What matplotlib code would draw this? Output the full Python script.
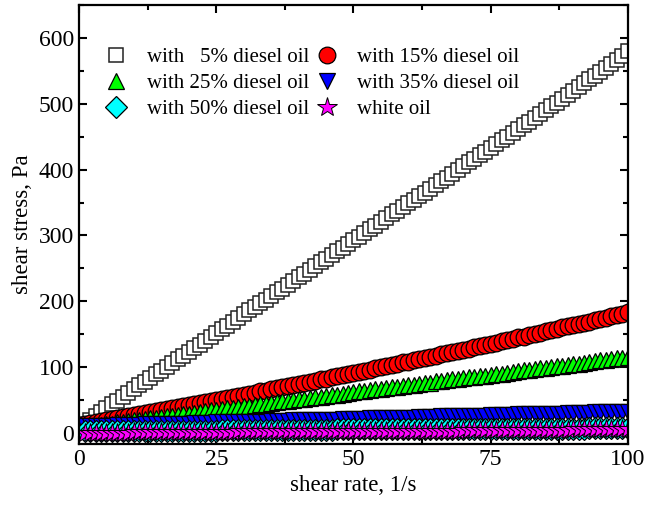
import matplotlib
matplotlib.use("Agg")
import matplotlib.pyplot as plt
from matplotlib.ticker import MultipleLocator

plt.rcParams['font.family'] = ['Liberation Serif', 'DejaVu Serif']

# shear rate, 1/s
shear_rate = list(range(1, 101))

# shear stress, Pa
stress_5 = [14, 20, 26, 31, 37, 43, 48, 54, 60, 66,
            72, 77, 83, 89, 94, 100, 106, 112, 117, 123,
            129, 134, 140, 146, 152, 157, 163, 168, 174, 180,
            186, 191, 197, 202, 208, 214, 219, 225, 231, 236,
            242, 248, 253, 259, 264, 270, 276, 281, 287, 293,
            298, 304, 309, 315, 321, 326, 332, 337, 343, 349,
            354, 360, 365, 371, 377, 382, 388, 393, 399, 405,
            411, 416, 422, 427, 433, 439, 445, 450, 456, 462,
            468, 473, 479, 485, 491, 496, 502, 508, 514, 519,
            525, 531, 537, 542, 548, 554, 560, 566, 572, 580]
stress_15 = [14, 15, 16, 18, 19, 21, 22, 24, 25, 27,
             28, 30, 31, 33, 34, 36, 37, 39, 40, 42,
             44, 45, 47, 48, 50, 51, 53, 55, 56, 58,
             59, 61, 63, 64, 66, 68, 69, 71, 72, 74,
             76, 77, 79, 81, 82, 84, 86, 88, 89, 91,
             93, 94, 96, 98, 100, 101, 103, 105, 107, 108,
             110, 112, 114, 115, 117, 119, 121, 123, 124, 126,
             128, 130, 132, 133, 135, 137, 139, 141, 143, 145,
             146, 148, 150, 152, 154, 156, 158, 160, 162, 164,
             165, 167, 169, 171, 173, 175, 177, 179, 181, 183]
stress_25 = [9, 10, 11, 12, 13, 14, 16, 17, 18, 19,
             20, 21, 22, 23, 24, 25, 26, 27, 28, 29,
             30, 32, 33, 34, 35, 36, 37, 38, 39, 40,
             41, 42, 43, 44, 45, 46, 48, 49, 50, 51,
             52, 53, 54, 55, 56, 57, 58, 59, 60, 62,
             63, 64, 65, 66, 67, 68, 69, 70, 71, 72,
             73, 74, 75, 76, 78, 79, 80, 81, 82, 83,
             84, 85, 86, 87, 88, 89, 90, 91, 93, 94,
             95, 96, 97, 98, 99, 100, 101, 102, 103, 104,
             105, 106, 108, 109, 110, 111, 112, 113, 114, 115]
stress_35 = [10, 10, 11, 11, 11, 11, 12, 12, 12, 12,
             12, 13, 13, 13, 13, 14, 14, 14, 14, 14,
             15, 15, 15, 15, 16, 16, 16, 16, 16, 17,
             17, 17, 17, 17, 18, 18, 18, 18, 19, 19,
             19, 19, 19, 20, 20, 20, 20, 21, 21, 21,
             21, 21, 22, 22, 22, 22, 23, 23, 23, 23,
             23, 24, 24, 24, 24, 25, 25, 25, 25, 25,
             26, 26, 26, 26, 27, 27, 27, 27, 27, 28,
             28, 28, 28, 28, 29, 29, 29, 29, 30, 30,
             30, 30, 30, 31, 31, 31, 31, 32, 32, 32]
stress_50 = [2, 2, 2, 2, 2, 2, 2, 3, 3, 3,
             3, 3, 3, 3, 3, 3, 3, 3, 3, 3,
             3, 3, 3, 3, 3, 4, 4, 4, 4, 4,
             4, 4, 4, 4, 4, 4, 4, 4, 4, 4,
             4, 4, 4, 4, 4, 4, 5, 5, 5, 5,
             5, 5, 5, 5, 5, 5, 5, 5, 5, 5,
             5, 5, 5, 5, 5, 5, 5, 5, 5, 6,
             6, 6, 6, 6, 6, 6, 6, 6, 6, 6,
             6, 6, 6, 6, 6, 6, 6, 6, 6, 6,
             6, 6, 7, 7, 7, 7, 7, 7, 7, 7]
stress_white = [0, 0, 0, 0, 0, 0, 0, 0, 0, 1,
                1, 1, 1, 1, 1, 1, 1, 1, 1, 1,
                1, 1, 1, 1, 1, 1, 1, 1, 2, 2,
                2, 2, 2, 2, 2, 2, 2, 2, 2, 2,
                2, 2, 2, 2, 2, 2, 2, 2, 3, 3,
                3, 3, 3, 3, 3, 3, 3, 3, 3, 3,
                3, 3, 3, 3, 3, 3, 3, 3, 3, 4,
                4, 4, 4, 4, 4, 4, 4, 4, 4, 4,
                4, 4, 4, 4, 4, 4, 4, 4, 4, 5,
                5, 5, 5, 5, 5, 5, 5, 5, 5, 5]

fig = plt.figure(figsize=(6.48, 5.15), dpi=100)
ax = fig.add_axes([0.122, 0.138, 0.847, 0.852])

h5, = ax.plot(shear_rate, stress_5, 's', ms=10.5, mfc='white', mec='#222222', mew=1.1,
              ls='none', label='with   5% diesel oil')
h15, = ax.plot(shear_rate, stress_15, 'o', ms=12, mfc='#ff0000', mec='black', mew=0.9,
               ls='none', label='with 15% diesel oil')
h25, = ax.plot(shear_rate, stress_25, '^', ms=12, mfc='#00ff00', mec='black', mew=0.9,
               ls='none', label='with 25% diesel oil')
h35, = ax.plot(shear_rate, stress_35, 'v', ms=12, mfc='#0000ff', mec='black', mew=0.9,
               ls='none', label='with 35% diesel oil')
h50, = ax.plot(shear_rate, stress_50, 'D', ms=11, mfc='#00ffff', mec='black', mew=0.9,
               ls='none', label='with 50% diesel oil')
hw, = ax.plot(shear_rate, stress_white, '*', ms=15, mfc='#ff00ff', mec='black', mew=0.7,
              ls='none', label='white oil')

ax.set_xlim(0, 100)
ax.set_ylim(-17, 650)
ax.xaxis.set_major_locator(MultipleLocator(25))
ax.xaxis.set_minor_locator(MultipleLocator(12.5))
ax.yaxis.set_major_locator(MultipleLocator(100))
ax.yaxis.set_minor_locator(MultipleLocator(50))
ax.tick_params(which='both', direction='in', top=True, right=True, width=1.5, labelsize=17)
ax.tick_params(which='major', length=6)
ax.tick_params(which='minor', length=3.5)
for sp in ax.spines.values():
    sp.set_linewidth(1.6)

ax.set_xlabel('shear rate, 1/s', fontsize=16.5)
ax.set_ylabel('shear stress, Pa', fontsize=16.5)

ax.legend(handles=[h5, h25, h50, h15, h35, hw], ncol=2, frameon=False, fontsize=15,
          loc='upper left', bbox_to_anchor=(0.034, 0.922), borderaxespad=0,
          handlelength=1.0, handletextpad=0.95, columnspacing=0.35, labelspacing=0.3)

fig.savefig('out.png', dpi=100)
